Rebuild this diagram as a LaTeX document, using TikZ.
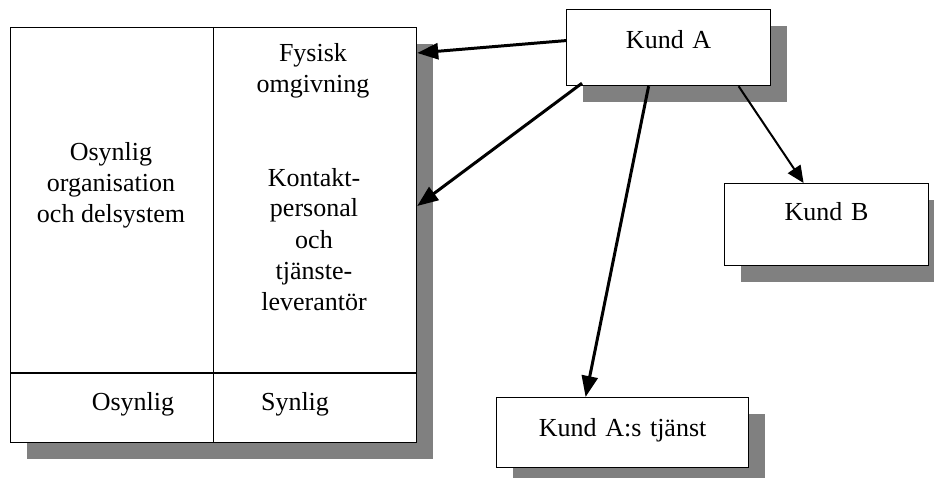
\documentclass[tikz,border=0pt]{standalone}
\usepackage{fontspec}
\setmainfont{Liberation Serif}
\usepackage{tikz}
\usetikzlibrary{arrows.meta,positioning,shadows}

\begin{document}
\begin{tikzpicture}[x=1pt, y=-1pt,
  box/.style={rectangle, draw=black, fill=white, line width=1.2pt, inner sep=0pt, align=center, font=\fontsize{26}{31}\selectfont,
    general shadow={fill=black!50, shadow xshift=16pt, shadow yshift=-16pt}},
  txt/.style={align=center, anchor=base, inner sep=0pt, font=\fontsize{26}{31}\selectfont},
  line/.style={draw, line width=3pt, -{Triangle[length=21pt,width=16pt]}}]
  \useasboundingbox (0,0) rectangle (934,478);

  % service system
  \node [box, anchor=north west, minimum width=406pt, minimum height=415pt] (org) at (10,27) {};
  \draw [line width=1.2pt] (org.north) -- (org.south);
  \draw [line width=1.2pt] (10,373) -- (416,373);
  \node [txt] (fysisk) at (313,93) {Fysisk\\omgivning};
  \node [txt] (osynorg) at (111,223) {Osynlig\\organisation\\och delsystem};
  \node [txt] (kontakt) at (314,310) {Kontakt-\\personal\\och\\tjänste-\\leverantör};
  \node [txt] (osynlig) at (133,410) {Osynlig};
  \node [txt] (synlig) at (295,410) {Synlig};

  % customers
  \node [box, anchor=north west, text width=204pt, text height=39pt, text depth=37pt] (kunda) at (566,9) {Kund A};
  \node [box, anchor=north west, text width=204pt, text height=37pt, text depth=45pt] (kundb) at (724,183) {Kund B};
  \node [box, anchor=north west, text width=252pt, text height=39pt, text depth=31pt] (tjanst) at (496,397) {Kund A:s tjänst};

  \coordinate (infys) at ([yshift=-26pt]org.north east);
  \coordinate (inkont) at ([yshift=-179pt]org.north east);
  \path [line] ([yshift=7pt]kunda.west) -- (infys);
  \path [line] ([xshift=16pt,yshift=3pt]kunda.south west) -- (inkont);
  \path [line] ([xshift=-20pt]kunda.south) -- ([xshift=-37pt]tjanst.north);
  \path [line, line width=2pt, -{Triangle[length=17pt,width=15pt]}] ([xshift=70pt]kunda.south) -- ([xshift=-23pt]kundb.north);
\end{tikzpicture}
\end{document}
